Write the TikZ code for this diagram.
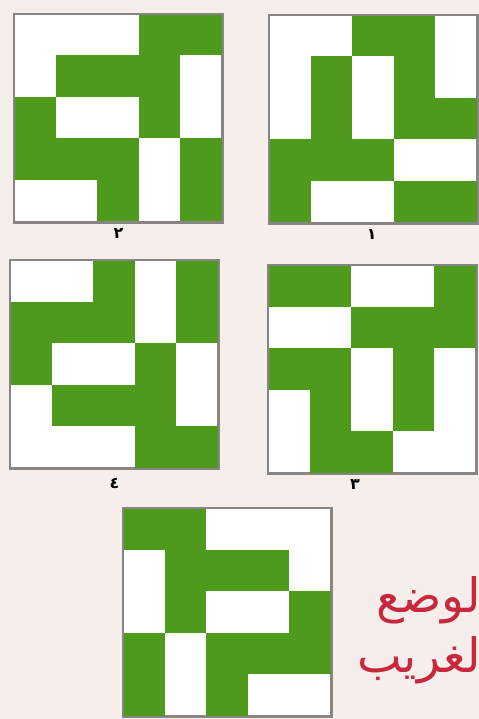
\documentclass[tikz,border=0pt]{standalone}
\usepackage{fontspec}
\usetikzlibrary{positioning}
\TeXXeTstate=1
\newfontfamily\arabicfont[Script=Arabic]{DejaVu Sans}
\definecolor{bg}{HTML}{F6EEEB}
\definecolor{grn}{HTML}{4E9A1D}
\definecolor{frm}{HTML}{8A8585}
\definecolor{redtxt}{HTML}{C8283E}
\tikzset{
  board/.style  = {rectangle, draw=frm, fill=white, line width=0.8pt,
                   minimum size=4.15cm, inner sep=0pt, anchor=north west},
  numlbl/.style = {font=\arabicfont\bfseries\small, text=black,
                   inner sep=1pt},
  title/.style  = {font=\arabicfont\fontsize{27}{33}\selectfont,
                   text=redtxt, align=right, inner sep=0pt},
}
% green cells of a 5x5 board: origin x, origin y, list of col/row
\newcommand\greencells[3]{%
  \foreach \c/\r in {#3}
    \fill[grn] ({#1+41.5*\c},{#2+41.5*\r}) rectangle ++(41.5,41.5);}

\begin{document}
\begin{tikzpicture}[x=0.02cm, y=-0.02cm]

  \fill[bg] (0,0) rectangle (479,719);
  \useasboundingbox (0,0) rectangle (479,719);

  \node[board] (b2) at (14,14)   {};
  \node[board] (b1) at (269,15)  {};
  \node[board] (b4) at (10,260)  {};
  \node[board] (b3) at (268,265) {};
  \node[board] (b5) at (123,508) {};

  \greencells{14}{14}{3/0,4/0, 1/1,2/1,3/1, 0/2,3/2, 0/3,1/3,2/3,4/3, 2/4,4/4}
  \greencells{269}{15}{2/0,3/0, 1/1,3/1, 1/2,3/2,4/2, 0/3,1/3,2/3, 0/4,3/4,4/4}
  \greencells{10}{260}{2/0,4/0, 0/1,1/1,2/1,4/1, 0/2,3/2, 1/3,2/3,3/3, 3/4,4/4}
  \greencells{268}{265}{0/0,1/0,4/0, 2/1,3/1,4/1, 0/2,1/2,3/2, 1/3,3/3, 1/4,2/4}
  \greencells{123}{508}{0/0,1/0, 1/1,2/1,3/1, 1/2,4/2, 0/3,2/3,3/3,4/3, 0/4,2/4}

  % frames on top of the cells
  \foreach \b in {b1,b2,b3,b4,b5}
    \draw[frm, line width=0.8pt] (\b.north west) rectangle (\b.south east);

  \node[numlbl, below=2pt of b2] (n2) {٢};
  \node[numlbl, below=2pt of b1, xshift=-1pt] (n1) {١};
  \node[numlbl, below=4pt of b4] (n4) {٤};
  \node[numlbl, below=2pt of b3, xshift=-10pt] (n3) {٣};

  \node[title, anchor=east] (ttl) at (481,630)
    {\beginR لوضع\endR\\[1pt]\beginR لغريب\endR};

\end{tikzpicture}
\end{document}
